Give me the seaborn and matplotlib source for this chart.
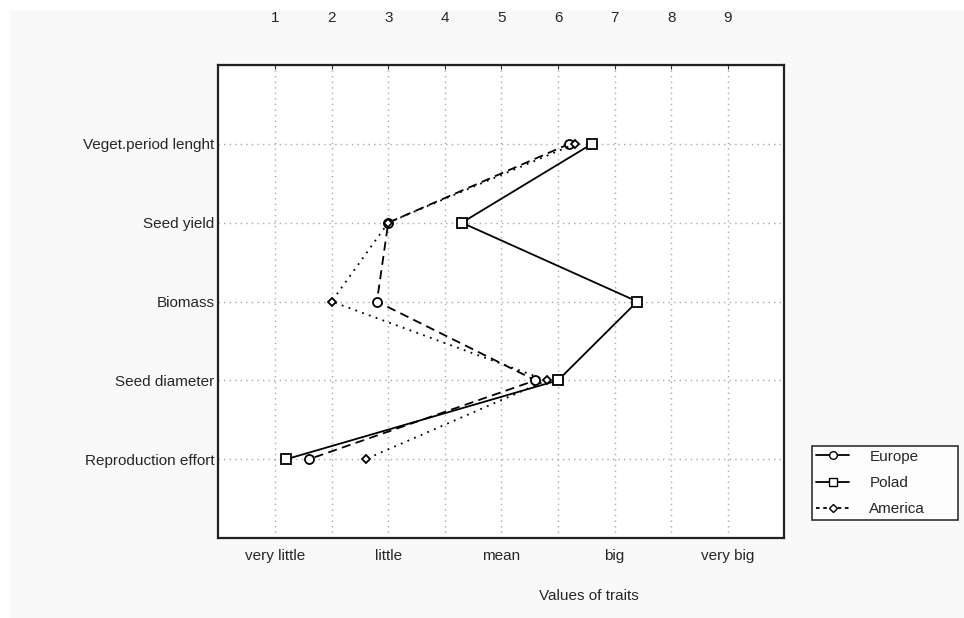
import pandas as pd
import matplotlib
matplotlib.use("Agg")
import matplotlib.pyplot as plt
from matplotlib.lines import Line2D
from matplotlib.patches import Rectangle
import seaborn as sns

traits = ['Veget.period lenght', 'Seed yield', 'Biomass', 'Seed diameter', 'Reproduction effort']
europe = [6.2, 3.0, 2.8, 5.6, 1.6]
poland = [6.6, 4.3, 7.4, 6.0, 1.2]
america = [6.3, 3.0, 2.0, 5.8, 2.6]
regions = ['Europe', 'Polad', 'America']
top_ticks = [1, 2, 3, 4, 5, 6, 7, 8, 9]
bottom_labels = ['very little', '', 'little', '', 'mean', '', 'big', '', 'very big']

rows = []
for name, vals in zip(regions, [europe, poland, america]):
    for i, v in enumerate(vals):
        rows.append({'region': name, 'pos': i + 1, 'value': v})
df = pd.DataFrame(rows)

sns.set_style('white')
plt.rcParams['font.family'] = ['Liberation Sans', 'DejaVu Sans']
plt.rcParams['font.size'] = 11

fig = plt.figure(figsize=(9.64, 6.18), dpi=100, facecolor='white')
fig.patches.append(Rectangle((10 / 964, 0), 1, 1 - 10 / 618, transform=fig.transFigure,
                             facecolor='#f9f9f9', edgecolor='none', zorder=-10))
ax = fig.add_axes([0.2266, 0.1294, 0.5871, 0.7654])
ax.set_facecolor('white')

sns.lineplot(data=df, x='value', y='pos', hue='region', style='region',
             palette={r: 'black' for r in regions},
             dashes={'Europe': (5, 3), 'Polad': '', 'America': (1, 3)},
             markers={'Europe': 'o', 'Polad': 's', 'America': 'D'},
             markerfacecolor='white', markeredgecolor='black', markeredgewidth=1.3,
             markersize=6.5, linewidth=1.3, sort=False, orient='y', ax=ax, legend=False)

# diamonds a bit smaller
for ln in ax.lines:
    if ln.get_marker() == 'D':
        ln.set_markersize(4.5)

ax.set_xlim(0, 10)
ax.set_ylim(6, 0)
ax.set_xticks(top_ticks)
ax.set_xticklabels(bottom_labels)
ax.set_yticks(range(1, 6))
ax.set_yticklabels(traits)
ax.grid(True, linestyle=(0, (1, 3)), color='#a8a8a8', linewidth=1)
ax.tick_params(axis='x', direction='in', length=3, pad=8, labelsize=11)
ax.tick_params(axis='y', length=0, pad=3, labelsize=11)
for s in ax.spines.values():
    s.set_linewidth(1.6)
    s.set_color('#222222')
ax.set_xlabel('Values of traits', fontsize=11)
ax.xaxis.set_label_coords(0.654, -0.108)
ax.set_ylabel('')

sec = ax.secondary_xaxis('top')
sec.set_xticks(top_ticks)
sec.tick_params(direction='in', length=3, pad=29, labelsize=11)

handles = [
    Line2D([], [], color='black', lw=1.3, marker='o', mfc='white', ms=5.5, label='Europe'),
    Line2D([], [], color='black', lw=1.3, marker='s', mfc='white', ms=5.5, label='Polad'),
    Line2D([], [], color='black', lw=1.3, ls=(0, (2, 2)), marker='D', mfc='white', ms=4, label='America'),
]
leg = fig.legend(handles=handles, loc='lower left', mode='expand', borderaxespad=0,
                 bbox_to_anchor=(812 / 964, 1 - 520 / 618, 146 / 964, 77 / 618),
                 frameon=True, fancybox=False, edgecolor='black', handlelength=2.2,
                 fontsize=11, borderpad=0.25, labelspacing=0.8, handletextpad=1.3)
leg.get_frame().set_linewidth(1.2)

fig.savefig('out.png', dpi=100, facecolor=fig.get_facecolor())
